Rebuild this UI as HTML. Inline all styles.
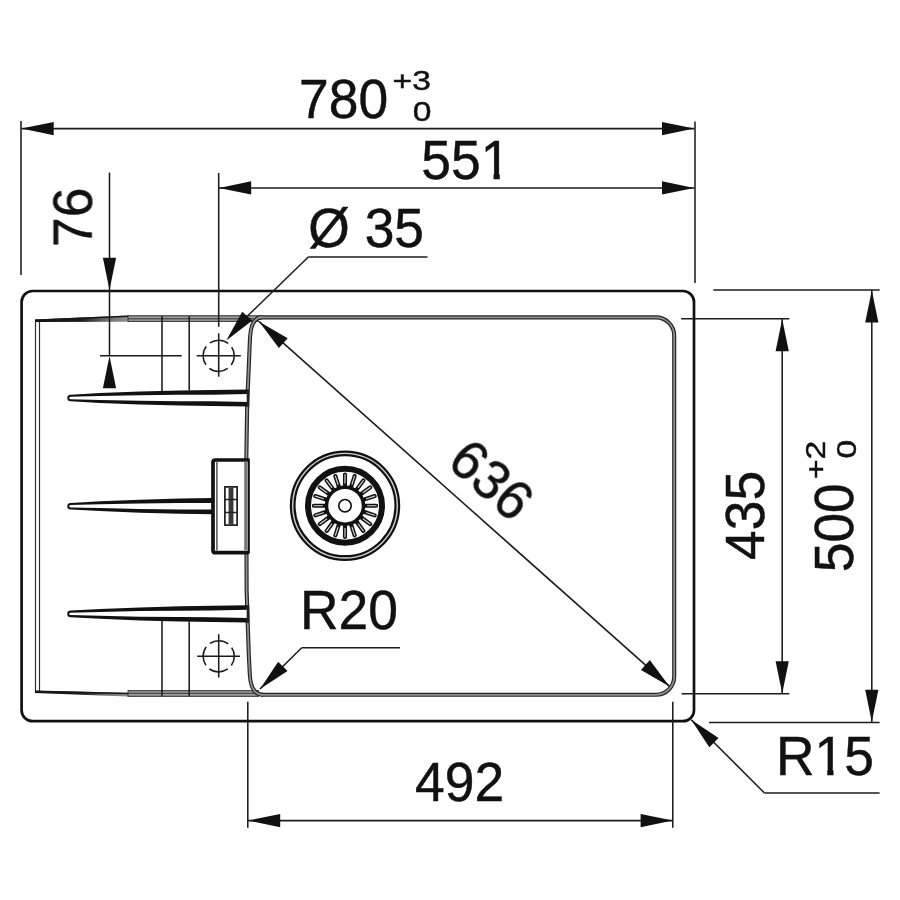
<!DOCTYPE html>
<html><head><meta charset="utf-8"><title>Sink drawing</title>
<style>
html,body{margin:0;padding:0;background:#fff;}
svg{display:block;}
text{font-family:"Liberation Sans",sans-serif;fill:#111;stroke:#111;stroke-width:0.45;}
.d{stroke:#1c1c1c;stroke-width:1.55;fill:none;}
.o{stroke:#111;stroke-width:2.7;fill:none;}
.b{stroke:#2a2a2a;stroke-width:1.15;fill:none;}
.t{font-size:53.4px;}
.s{font-size:28px;}
</style></head><body>
<svg width="900" height="900" viewBox="0 0 900 900">
<defs><linearGradient id="wg" gradientUnits="userSpaceOnUse" x1="36" y1="0" x2="128" y2="0"><stop offset="0" stop-color="#111"/><stop offset="0.5" stop-color="#1c1c1c"/><stop offset="0.75" stop-color="#6a6a6a"/><stop offset="1" stop-color="#909090"/></linearGradient></defs>
<rect width="900" height="900" fill="#fff"/>

<rect class="o" x="21.6" y="291" width="672.4" height="430.2" rx="11" ry="11"/>
<g class="b">
<path d="M35.5 692.5 V320.5 M39.5 691 V321.5"/>
<path d="M35 319.6 L128 315.6 L128 321.8 L35 322 Z" fill="url(#wg)" stroke="none"/>
<path d="M35 690.5 L128 692.8 L128 696.6 L35 692.9 Z" fill="url(#wg)" stroke="none"/>
<path d="M35 320.3 L128 316.2 M35 691.4 L128 693.6" stroke="#181818" stroke-width="1.5"/>
<rect x="128" y="315.3" width="131" height="6.5" fill="#9c9c9c" stroke="none"/>
<rect x="128" y="690.3" width="131" height="6.5" fill="#9c9c9c" stroke="none"/>
<path d="M128 315.8 H259 M128 318.8 H259 M128 321.4 H259 M128 690.7 H259 M128 693.3 H259 M128 696.3 H259 M128 315.4 V321.8 M128 690.3 V696.8" stroke-width="0.9"/>
</g>
<g class="d">
<line x1="21.0" y1="121.0" x2="21.0" y2="275.0"/>
<line x1="695.0" y1="121.5" x2="695.0" y2="283.0"/>
<line x1="21.5" y1="128.6" x2="694.3" y2="128.6"/>
<line x1="218.7" y1="173.0" x2="218.7" y2="326.8"/>
<line x1="219.0" y1="187.9" x2="694.3" y2="187.9"/>
<line x1="109.5" y1="172.5" x2="109.5" y2="356.0"/>
<line x1="100.0" y1="355.8" x2="181.7" y2="355.8"/>
<line x1="308.3" y1="257.0" x2="427.5" y2="257.0"/>
<line x1="308.3" y1="257.0" x2="246.5" y2="317.0"/>
<line x1="259.2" y1="321.7" x2="669.5" y2="686.4"/>
<line x1="301.7" y1="647.7" x2="400.0" y2="647.7"/>
<line x1="301.7" y1="647.7" x2="260.0" y2="689.0"/>
<line x1="764.4" y1="792.9" x2="879.6" y2="792.9"/>
<line x1="764.4" y1="792.9" x2="691.2" y2="719.8"/>
<line x1="713.3" y1="290.0" x2="879.6" y2="290.0"/>
<line x1="681.2" y1="318.8" x2="789.3" y2="318.8"/>
<line x1="782.2" y1="319.0" x2="782.2" y2="693.5"/>
<line x1="871.8" y1="290.3" x2="871.8" y2="722.0"/>
<line x1="681.7" y1="693.8" x2="789.3" y2="693.8"/>
<line x1="709.0" y1="722.5" x2="879.6" y2="722.5"/>
<line x1="247.8" y1="701.7" x2="247.8" y2="827.7"/>
<line x1="672.8" y1="701.7" x2="672.8" y2="827.7"/>
<line x1="248.0" y1="820.6" x2="672.8" y2="820.6"/>
<line x1="196.7" y1="355.8" x2="240.8" y2="355.8"/>
<line x1="218.7" y1="333.4" x2="218.7" y2="376.7"/>
<line x1="197.2" y1="656.3" x2="240.0" y2="656.3"/>
<line x1="218.7" y1="634.2" x2="218.7" y2="677.5"/>
<line x1="162.0" y1="316.0" x2="162.0" y2="391.5"/>
<line x1="189.2" y1="316.0" x2="189.2" y2="390.5"/>
<line x1="162.0" y1="620.5" x2="162.0" y2="696.3"/>
<line x1="189.2" y1="621.5" x2="189.2" y2="696.3"/>
<circle cx="218.7" cy="355.8" r="15.6" stroke-dasharray="19.6 4.9" stroke-dashoffset="9.8"/>
<circle cx="218.7" cy="656.3" r="15.6" stroke-dasharray="19.6 4.9" stroke-dashoffset="9.8"/>
</g>
<path d="M258 317.4 H655.9 A18.3 18.3 0 0 1 674.2 335.7 V676.5 A18.3 18.3 0 0 1 655.9 694.8 H261" fill="none" stroke="#262626" stroke-width="4.1"/>
<path d="M262 317.4 C255 317.4 250.6 324 250 338 L247.2 403 L246.3 460 L246.6 590 L248.8 655 L249.8 674 C250.3 687 254.5 694.8 263 694.8" fill="none" stroke="#262626" stroke-width="4.1"/>
<path d="M258 317.4 H655.9 A18.3 18.3 0 0 1 674.2 335.7 V676.5 A18.3 18.3 0 0 1 655.9 694.8 H261" fill="none" stroke="#929292" stroke-width="1.7"/>
<path d="M262 317.4 C255 317.4 250.6 324 250 338 L247.2 403 L246.3 460 L246.6 590 L248.8 655 L249.8 674 C250.3 687 254.5 694.8 263 694.8" fill="none" stroke="#929292" stroke-width="1.7"/>
<path d="M70.6 394.7 L100.0 393.1 L140.0 391.5 L180.0 390.4 L212.0 389.9 L248.5 389.4 L248.5 406.6 L212.0 406.1 L180.0 405.6 L140.0 404.5 L100.0 402.9 L70.6 401.3 A3.3 3.3 0 0 1 70.6 394.7 Z" fill="#111"/>
<path d="M70.6 396.8 L100.0 396.1 L140.0 395.2 L180.0 394.8 L212.0 394.7 L248.5 393.9 L248.5 402.1 L212.0 401.3 L180.0 401.2 L140.0 400.8 L100.0 399.9 L70.6 399.2 A1.3 1.2 0 0 1 70.6 396.8 Z" fill="#fff"/>
<path d="M70.6 502.9 L100.0 501.3 L140.0 499.7 L180.0 498.6 L212.0 498.1 L212.0 514.3 L180.0 513.8 L140.0 512.7 L100.0 511.1 L70.6 509.5 A3.3 3.3 0 0 1 70.6 502.9 Z" fill="#111"/>
<path d="M70.6 505.0 L100.0 504.3 L140.0 503.4 L180.0 503.0 L212.0 502.9 L212.0 509.5 L180.0 509.4 L140.0 509.0 L100.0 508.1 L70.6 507.4 A1.3 1.2 0 0 1 70.6 505.0 Z" fill="#fff"/>
<path d="M70.6 610.6 L100.0 609.0 L140.0 607.4 L180.0 606.3 L212.0 605.8 L248.5 605.3 L248.5 622.5 L212.0 622.0 L180.0 621.5 L140.0 620.4 L100.0 618.8 L70.6 617.2 A3.3 3.3 0 0 1 70.6 610.6 Z" fill="#111"/>
<path d="M70.6 612.7 L100.0 612.0 L140.0 611.1 L180.0 610.7 L212.0 610.6 L248.5 609.8 L248.5 618.0 L212.0 617.2 L180.0 617.1 L140.0 616.7 L100.0 615.8 L70.6 615.1 A1.3 1.2 0 0 1 70.6 612.7 Z" fill="#fff"/>
<path d="M248 389.5 V406.5 M248 605.4 V622.4" stroke="#222" stroke-width="2.6" fill="none"/>
<rect x="214" y="461" width="34" height="90" fill="#fff"/>
<path d="M248.6 460 H215.3 Q213 460 213 462.3 V550.4 Q213 552.7 215.3 552.7 H248.6" fill="none" stroke="#111" stroke-width="3.7"/>
<path d="M248.8 458.5 V553.5" stroke="#111" stroke-width="2.1" fill="none"/>
<path d="M245.9 461.7 V550.4" stroke="#777" stroke-width="3.4" fill="none"/>
<path d="M216.9 461.7 V550.4" stroke="#555" stroke-width="1.5" fill="none"/>
<rect x="224.9" y="486.9" width="12.2" height="38.2" fill="#fff" stroke="#1c1c1c" stroke-width="1.7"/>
<path d="M231 487.5 V524.5" stroke="#3a3a3a" stroke-width="4.9" fill="none"/>
<path d="M224.5 499.5 H237.5 M224.5 512.5 H237.5" stroke="#222" stroke-width="1.5" fill="none"/>
<g fill="none" stroke="#111">
<circle cx="345" cy="505.7" r="52.3" stroke-width="5.8"/>
<circle cx="345" cy="505.7" r="52.3" stroke="#d0d0d0" stroke-width="1.4"/>
<circle cx="345" cy="505.7" r="37" stroke-width="6"/>
<circle cx="345" cy="505.7" r="18.5" stroke-width="3.5"/>
<circle cx="345" cy="505.7" r="6.2" stroke-width="1.6"/>
<path d="M365.50 505.70 L376.20 505.70 M364.50 512.03 L374.67 515.34 M361.58 517.75 L370.24 524.04 M357.05 522.28 L363.34 530.94 M351.33 525.20 L354.64 535.37 M345.00 526.20 L345.00 536.90 M338.67 525.20 L335.36 535.37 M332.95 522.28 L326.66 530.94 M328.42 517.75 L319.76 524.04 M325.50 512.03 L315.33 515.34 M324.50 505.70 L313.80 505.70 M325.50 499.37 L315.33 496.06 M328.42 493.65 L319.76 487.36 M332.95 489.12 L326.66 480.46 M338.67 486.20 L335.36 476.03 M345.00 485.20 L345.00 474.50 M351.33 486.20 L354.64 476.03 M357.05 489.12 L363.34 480.46 M361.58 493.65 L370.24 487.36 M364.50 499.37 L374.67 496.06" stroke-width="4.1" stroke-linecap="round"/>
<path d="M367.60 505.70 L376.10 505.70 M366.49 512.68 L374.58 515.31 M363.28 518.98 L370.16 523.98 M358.28 523.98 L363.28 530.86 M351.98 527.19 L354.61 535.28 M345.00 528.30 L345.00 536.80 M338.02 527.19 L335.39 535.28 M331.72 523.98 L326.72 530.86 M326.72 518.98 L319.84 523.98 M323.51 512.68 L315.42 515.31 M322.40 505.70 L313.90 505.70 M323.51 498.72 L315.42 496.09 M326.72 492.42 L319.84 487.42 M331.72 487.42 L326.72 480.54 M338.02 484.21 L335.39 476.12 M345.00 483.10 L345.00 474.60 M351.98 484.21 L354.61 476.12 M358.28 487.42 L363.28 480.54 M363.28 492.42 L370.16 487.42 M366.49 498.72 L374.58 496.09" stroke="#d4d4d4" stroke-width="1.15" stroke-linecap="round"/>
</g>
<g fill="#111">
<polygon points="21.5,128.6 53.7,122.0 53.7,135.2"/>
<polygon points="694.2,128.6 662.0,135.2 662.0,122.0"/>
<polygon points="219.0,187.9 251.2,181.3 251.2,194.5"/>
<polygon points="694.2,187.9 662.0,194.5 662.0,181.3"/>
<polygon points="109.5,290.0 102.9,257.8 116.1,257.8"/>
<polygon points="109.5,356.0 116.1,388.2 102.9,388.2"/>
<polygon points="226.3,340.6 242.2,311.8 252.3,320.4"/>
<polygon points="259.2,321.7 287.7,338.2 278.9,348.0"/>
<polygon points="669.5,686.4 641.0,669.9 649.8,660.1"/>
<polygon points="260.0,689.0 278.2,661.7 287.5,671.0"/>
<polygon points="691.2,719.8 718.6,737.9 709.3,747.2"/>
<polygon points="782.2,319.0 788.8,351.2 775.6,351.2"/>
<polygon points="782.2,693.5 775.6,661.3 788.8,661.3"/>
<polygon points="871.8,290.3 878.4,322.5 865.2,322.5"/>
<polygon points="871.8,722.0 865.2,689.8 878.4,689.8"/>
<polygon points="248.0,820.6 280.2,814.0 280.2,827.2"/>
<polygon points="672.8,820.6 640.6,827.2 640.6,814.0"/>
</g>
<g class="t" opacity="0.999">
<text transform="translate(299,117.6) scale(1,1.025)">780</text>
<text transform="translate(421.3,179.3) scale(1,1.025)">551</text>
<text transform="translate(308.3,247) scale(1,1.025)">Ø 35</text>
<text transform="translate(299.9,629.3) scale(1,1.025)">R20</text>
<text transform="translate(775.9,775.1) scale(1,1.025)">R15</text>
<text transform="translate(415,800.7) scale(1,1.025)">492</text>
<text transform="translate(91.9,247) rotate(-90) scale(1,1.025)">76</text>
<text transform="translate(763.7,560) rotate(-90) scale(1,1.025)">435</text>
<text transform="translate(853,572.3) rotate(-90) scale(1,1.025)">500</text>
<text transform="translate(445.5,464.5) rotate(41.6) scale(1,1.025)">636</text>
</g>
<g class="s" stroke-width="0.1" opacity="0.999">
<text transform="translate(392.6,90) scale(1.2,1)">+3</text>
<text transform="translate(412.8,121) scale(1.2,1)">0</text>
<text transform="translate(825,479) rotate(-90) scale(1.2,1)">+2</text>
<text transform="translate(856,458.6) rotate(-90) scale(1.2,1)">0</text>
</g>
<g fill="#fff"><rect x="482.3" y="173.1" width="11.2" height="8"/><rect x="499.75" y="173.1" width="10.5" height="8"/><rect x="816" y="768.9" width="11.25" height="8"/><rect x="833.5" y="768.9" width="10.5" height="8"/></g>
</svg></body></html>
